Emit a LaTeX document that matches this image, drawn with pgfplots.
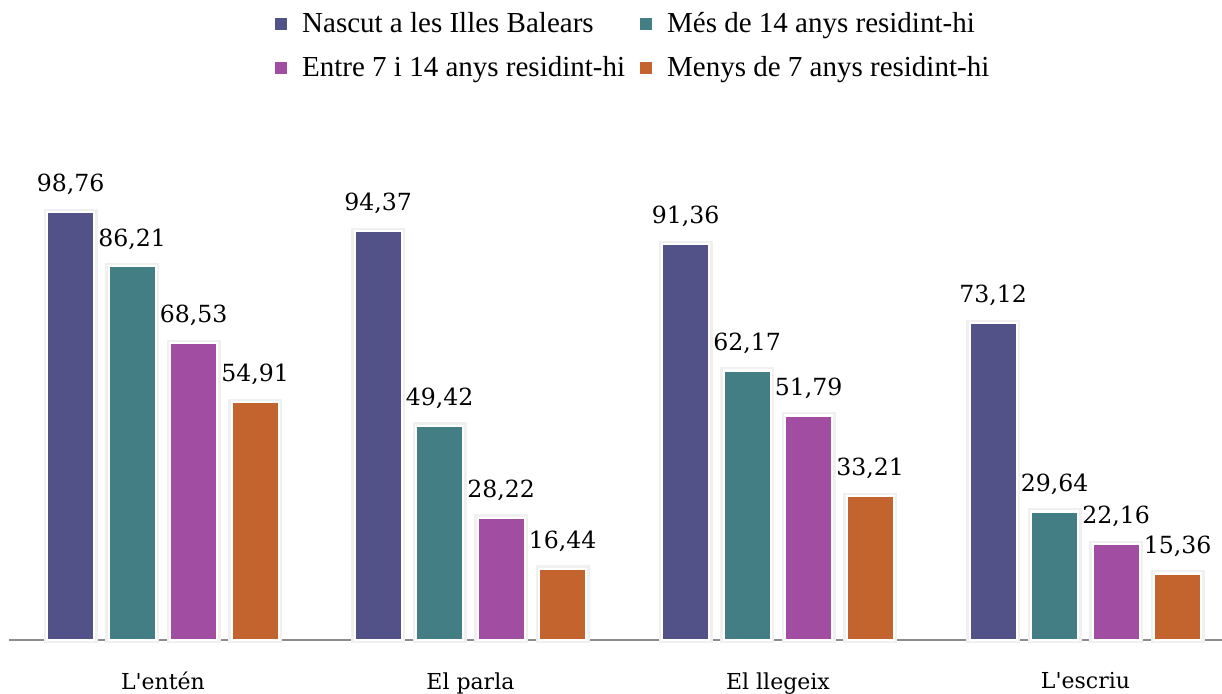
\documentclass[border=0pt]{standalone}
\usepackage{fontspec}
\setmainfont{Liberation Serif}
\newfontfamily\numfont{DejaVu Serif}
\usepackage{pgfplots}
\pgfplotsset{compat=1.18}

\definecolor{cNascut}{RGB}{82,82,136}
\definecolor{cMes}{RGB}{66,126,131}
\definecolor{cEntre}{RGB}{160,77,162}
\definecolor{cMenys}{RGB}{195,99,46}

\pgfplotsset{
  barstyle/.style={
    fill=#1, draw=white, line width=1.1pt,
    preaction={draw=black!6, line width=3.4pt},
    legend image code/.code={%
      \pgfpathrectangle{\pgfpoint{3pt}{-3pt}}{\pgfpoint{6pt}{6pt}}%
      \pgfsetfillcolor{#1}\pgfusepath{fill}},
  },
}

\begin{document}
\begin{tikzpicture}
\begin{axis}[
    name=ax,
    scale only axis,
    width=606.4pt, height=245pt,
    xmin=-0.5, xmax=3.444,
    ymin=0, ymax=113.06,
    ybar, bar width=0.153,
    axis y line=none,
    axis x line*=bottom,
    x axis line style={draw=black!45, line width=0.9pt, -},
    major tick length=0pt,
    xtick={0,1,2,3},
    xticklabels={L'entén, El parla, El llegeix, L'escriu},
    xticklabel style={font=\numfont\fontsize{11}{13}\selectfont, inner sep=0pt, anchor=north, yshift=-16pt},
    clip=false,
    nodes near coords={\pgfmathprintnumber[fixed, fixed zerofill, precision=2, use comma]{\pgfplotspointmeta}},
    /pgf/number format/assume math mode=true,
    nodes near coords style={font=\numfont\fontsize{11.8}{13}\selectfont, anchor=south, inner sep=0pt, yshift=8pt, text=black},
    legend columns=2,
    legend cell align=left,
    legend style={
      at={(0.219,1.29)}, anchor=north west,
      draw=none, fill=none, inner sep=0pt,
      font=\fontsize{14.5}{16}\selectfont,
      row sep=6.5pt,
      /tikz/every odd column/.append style={column sep=5.5pt},
      /tikz/every even column/.append style={column sep=5.5pt},
    },
]
\addplot[barstyle=cNascut, bar shift=-0.3] coordinates {(0,98.76) (1,94.37) (2,91.36) (3,73.12)};
\addplot[barstyle=cMes, bar shift=-0.1] coordinates {(0,86.21) (1,49.42) (2,62.17) (3,29.64)};
\addplot[barstyle=cEntre, bar shift=0.1] coordinates {(0,68.53) (1,28.22) (2,51.79) (3,22.16)};
\addplot[barstyle=cMenys, bar shift=0.3] coordinates {(0,54.91) (1,16.44) (2,33.21) (3,15.36)};
\legend{Nascut a les Illes Balears, Més de 14 anys residint-hi, Entre 7 i 14 anys residint-hi, Menys de 7 anys residint-hi}
\end{axis}
\pgfresetboundingbox
\path[use as bounding box] ([xshift=-4.6pt, yshift=-27pt]ax.south west) rectangle ([yshift=75pt]ax.north east);
\end{tikzpicture}
\end{document}
